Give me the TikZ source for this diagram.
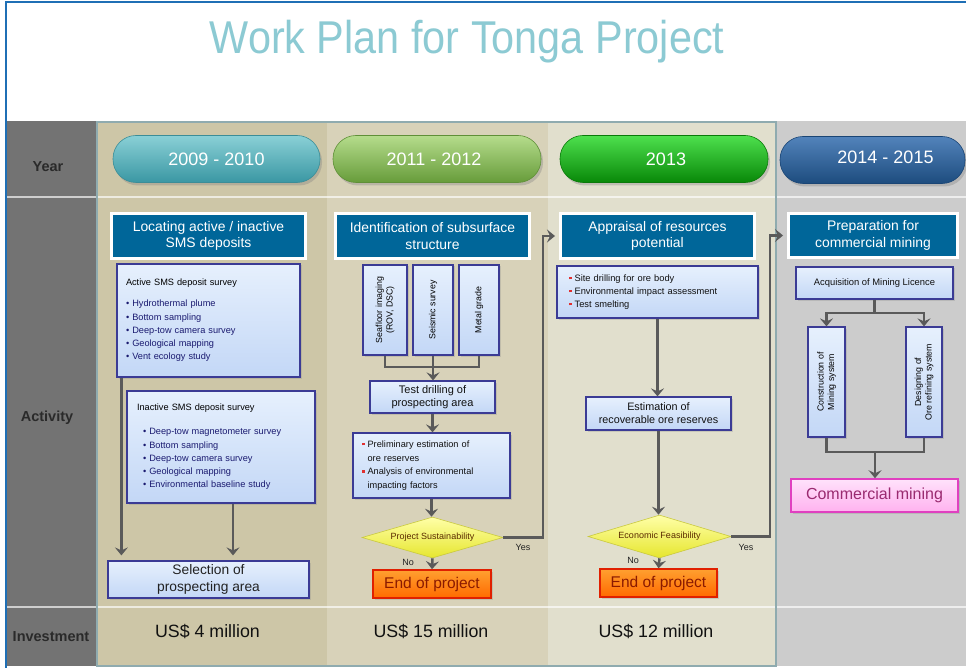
\documentclass[tikz,border=0pt]{standalone}
\usepackage{fontspec}
\setmainfont{Liberation Sans}
\usetikzlibrary{shapes.geometric,arrows.meta,shadows}
\definecolor{hdrblue}{HTML}{006699}
\definecolor{boxedge}{HTML}{3B3B95}
\definecolor{boxtop}{HTML}{E6F0FD}
\definecolor{boxbot}{HTML}{C3D7F6}
\definecolor{arrgray}{HTML}{5A5A5A}
\definecolor{navy}{HTML}{1A1A70}
\definecolor{bulred}{HTML}{E03030}
\definecolor{colA}{HTML}{CDC6A7}
\definecolor{colB}{HTML}{D8D2B9}
\definecolor{colC}{HTML}{E1DFCD}
\definecolor{colD}{HTML}{CCCCCC}
\definecolor{lblgray}{HTML}{737373}
\definecolor{framec}{HTML}{8FABAF}
\definecolor{titlec}{HTML}{8CCAD3}
\definecolor{borderblue}{HTML}{1F6FB5}
\definecolor{diaedge}{HTML}{C9C940}
\definecolor{diatop}{HTML}{FFFFA8}
\definecolor{diabot}{HTML}{E6E62E}
\definecolor{diatext}{HTML}{5A2A00}
\definecolor{endedge}{HTML}{E02000}
\definecolor{endtop}{HTML}{FFA030}
\definecolor{endbot}{HTML}{FF6A00}
\definecolor{endtext}{HTML}{8B1A00}
\definecolor{txtA}{HTML}{222222}
\definecolor{txtB}{HTML}{2A2A2A}
\definecolor{txtC}{HTML}{111111}
\definecolor{p1edge}{HTML}{3B8D97}
\definecolor{p1top}{HTML}{8AD0D6}
\definecolor{p1bot}{HTML}{3A97A3}
\definecolor{p2edge}{HTML}{5F8F38}
\definecolor{p2top}{HTML}{B5DC8C}
\definecolor{p2bot}{HTML}{679C3A}
\definecolor{p3edge}{HTML}{0A7A0A}
\definecolor{p3top}{HTML}{4EE04E}
\definecolor{p3bot}{HTML}{088808}
\definecolor{p4edge}{HTML}{1A4575}
\definecolor{p4top}{HTML}{5283BB}
\definecolor{p4bot}{HTML}{1D4C7E}
\definecolor{pinkedge}{HTML}{E040C0}
\definecolor{pinktop}{HTML}{FFE2FB}
\definecolor{pinkbot}{HTML}{FFB2EF}
\definecolor{pinktext}{HTML}{9A2A70}
\newcommand{\redsq}{\raisebox{2pt}{\textcolor{bulred}{\rule{2.6pt}{2.6pt}}}\hspace{3pt}}
\begin{document}
\begin{tikzpicture}[x=1pt,y=-1pt,
  pill/.style={rounded corners=23pt, minimum height=47pt, inner sep=0pt, text=white,
    font=\fontsize{18}{21}\selectfont, line width=0.6pt,
    drop shadow={opacity=0.35,shadow xshift=2pt,shadow yshift=-3pt}},
  hdr/.style={draw=white, line width=3pt, fill=hdrblue, text=white, align=center,
    font=\fontsize{13.9}{16.5}\selectfont, inner sep=0pt, minimum height=45pt,
    drop shadow={opacity=0.3,shadow xshift=1.5pt,shadow yshift=-1.5pt}},
  lbox/.style={draw=boxedge, line width=1.2pt, top color=boxtop, bottom color=boxbot,
    inner sep=0pt, drop shadow={opacity=0.25,shadow xshift=1.5pt,shadow yshift=-1.5pt}},
  rot/.style={rotate=90, align=center, font=\fontsize{8.8}{10.5}\selectfont, inner sep=0pt},
  dec/.style={diamond, aspect=3.4, inner sep=0pt, draw=diaedge, line width=0.6pt,
    top color=diatop, bottom color=diabot, text=diatext,
    font=\fontsize{9}{10}\selectfont},
  endbox/.style={draw=endedge, line width=1.5pt, top color=endtop, bottom color=endbot,
    text=endtext, font=\fontsize{15.5}{18}\selectfont, inner sep=0pt, minimum width=117pt, minimum height=28pt,
    drop shadow={opacity=0.25,shadow xshift=1.5pt,shadow yshift=-1.5pt}},
  arr/.style={draw=arrgray, line width=2.5pt, -{Stealth[length=8pt,width=13pt,inset=3pt]}},
  ln/.style={draw=arrgray, line width=2.5pt},
  yn/.style={font=\fontsize{9}{10}\selectfont, text=txtA, inner sep=0pt},
  rowlbl/.style={font=\bfseries\fontsize{14.5}{16}\selectfont, text=txtB, inner sep=0pt},
  inv/.style={font=\fontsize{17.8}{20}\selectfont, text=txtC, inner sep=0pt}
]
\useasboundingbox (0,0) rectangle (966,668);
\fill[white] (0,0) rectangle (966,668);
% background bands
\fill[lblgray] (7,121) rectangle (96,666);
\fill[colA] (96,121) rectangle (327,666);
\fill[colB] (327,121) rectangle (548,666);
\fill[colC] (548,121) rectangle (776,666);
\fill[colD] (776,121) rectangle (966,666);
\draw[white, opacity=0.65, line width=2pt] (7,197) -- (966,197);
\draw[white, opacity=0.65, line width=2pt] (7,607) -- (966,607);
\draw[framec, line width=2.5pt] (97,122) rectangle (776,666);
\draw[borderblue, line width=2pt] (6,668) -- (6,2) -- (966,2);
% title
\node[font=\fontsize{46}{50}\selectfont, text=titlec, xscale=0.9, anchor=base, inner sep=0pt] (title) at (467,54) {Work Plan for Tonga Project};
% row labels
\node[rowlbl] (lyear) at (48,167) {Year};
\node[rowlbl] (lact) at (47,418) {Activity};
\node[rowlbl] (linv) at (51,637) {Investment};
% year pills
\node[pill, minimum width=207pt, draw=p1edge, top color=p1top, bottom color=p1bot] (p1) at (216.5,159) {2009 - 2010};
\node[pill, minimum width=208pt, draw=p2edge, top color=p2top, bottom color=p2bot] (p2) at (437,159) {\hspace*{-6pt}2011 - 2012};
\node[pill, minimum width=208pt, draw=p3edge, top color=p3top, bottom color=p3bot] (p3) at (664,159) {\hspace*{4pt}2013};
\node[pill, minimum width=185pt, draw=p4edge, top color=p4top, bottom color=p4bot] (p4) at (872.5,160) {\hspace*{26pt}\raisebox{5pt}{2014 - 2015}};
% headers
\node[hdr, minimum width=194pt] (h1) at (208.5,236) {Locating active / inactive\\SMS deposits};
\node[hdr, minimum width=194pt] (h2) at (432.5,236) {Identification of subsurface\\structure};
\node[hdr, minimum width=194pt] (h3) at (657.5,236) {Appraisal of resources\\potential};
\node[hdr, minimum width=169pt, minimum height=44pt] (h4) at (873,235.5) {Preparation for\\commercial mining};
% column 1
\node[lbox, minimum width=183pt, minimum height=113pt, text width=165pt, inner xsep=9pt, align=left,
  font=\fontsize{9.2}{13.3}\selectfont] (act) at (208.5,320.5)
  {{\fontsize{9.2}{10}\selectfont Active SMS deposit survey}\\[7.7pt]
   {\color{navy}• Hydrothermal plume\\ • Bottom sampling\\ • Deep-tow camera survey\\ • Geological mapping\\ • Vent ecology study}};
\node[lbox, minimum width=188pt, minimum height=112pt, text width=168pt, inner xsep=10pt, align=left,
  font=\fontsize{9.2}{13.3}\selectfont] (inact) at (221,447)
  {{\fontsize{9.2}{10}\selectfont Inactive SMS deposit survey}\\[10.7pt]
   {\color{navy}\hspace*{6pt}• Deep-tow magnetometer survey\\ \hspace*{6pt}• Bottom sampling\\ \hspace*{6pt}• Deep-tow camera survey\\ \hspace*{6pt}• Geological mapping\\ \hspace*{6pt}• Environmental baseline study}};
\node[lbox, minimum width=201pt, minimum height=37pt, align=center, text=txtA,
  font=\fontsize{13.8}{16.5}\selectfont] (sel) at (208.5,579.5) {Selection of\\prospecting area};
\coordinate (c1) at ([xshift=5pt]act.south west);
\coordinate (c2) at ([xshift=12pt]inact.south);
\draw[arr, shorten >=5pt] (c1) -- (c1 |- sel.north);
\draw[arr, shorten >=5pt] (c2) -- (c2 |- sel.north);
% column 2
\node[lbox, minimum width=44pt, minimum height=90pt] (v1) at (385,310) {};
\node[lbox, minimum width=40pt, minimum height=90pt] (v2) at (433,310) {};
\node[lbox, minimum width=40pt, minimum height=90pt] (v3) at (479,310) {};
\node[rot] (v1t) at (v1.center) {Seafloor imaging\\(ROV, DSC)};
\node[rot] (v2t) at (v2.center) {Seismic survey};
\node[rot] (v3t) at (v3.center) {Metal grade};
\node[lbox, minimum width=125pt, minimum height=32pt, align=center, text=txtC,
  font=\fontsize{11}{12.7}\selectfont] (test) at (432.5,397) {Test drilling of\\prospecting area};
\node[lbox, minimum width=157pt, minimum height=65pt, text width=139pt, inner xsep=9pt, align=left, text=txtC,
  font=\fontsize{9.2}{13.7}\selectfont] (prel) at (431.5,465.5)
  {\redsq Preliminary estimation of\\ \hspace*{5.6pt}ore reserves\\ \redsq Analysis of environmental\\ \hspace*{5.6pt}impacting factors};
\node[dec, minimum width=141pt, minimum height=41pt] (d1) at (432.5,537.5) {Project Sustainability};
\node[endbox, minimum width=118pt] (e1) at (432,584) {End of project};
\coordinate (j2) at (433,367);
\draw[ln] (v1.south) |- (j2) -| (v3.south);
\draw[arr] (v2.south) -- (v2.south |- test.north);
\draw[arr] (test.south) -- (test.south |- prel.north);
\draw[arr] (prel.south) -- (prel.south |- d1.north);
\draw[arr] (d1.south) -- (e1.north);
\coordinate (y1) at (543,537.5);
\draw[arr, shorten >=4pt] (d1.east) -- (y1) |- (h3.west);
\node[yn] (yes1) at (523,547) {Yes};
\node[yn] (no1) at (408,562) {No};
% column 3
\node[lbox, minimum width=201pt, minimum height=52pt, text width=177pt, inner xsep=12pt, align=left, text=txtC,
  font=\fontsize{9.3}{13}\selectfont] (b3) at (657.5,292)
  {\redsq Site drilling for ore body\\ \redsq Environmental impact assessment\\ \redsq Test smelting};
\node[lbox, minimum width=145pt, minimum height=33pt, align=center, text=txtC,
  font=\fontsize{10.8}{13}\selectfont] (est) at (658.5,413.5) {Estimation of\\recoverable ore reserves};
\node[dec, minimum width=143pt, minimum height=43pt] (d2) at (659.5,536.5) {Economic Feasibility};
\node[endbox] (e2) at (658.5,583) {End of project};
\draw[arr] (b3.south) -- (b3.south |- est.north);
\draw[arr] (est.south) -- (est.south |- d2.north);
\draw[arr] (d2.south) -- (e2.north);
\coordinate (y2) at (770,536.5);
\draw[arr, shorten >=4pt] (d2.east) -- (y2) |- (h4.west);
\node[yn] (yes2) at (746,547) {Yes};
\node[yn] (no2) at (633,560) {No};
% column 4
\node[lbox, minimum width=157pt, minimum height=32pt, text=txtC,
  font=\fontsize{9.4}{11}\selectfont] (acq) at (874.5,283) {Acquisition of Mining Licence};
\node[lbox, minimum width=37pt, minimum height=110pt] (con) at (826.5,382) {};
\node[lbox, minimum width=36pt, minimum height=110pt] (des) at (924,382) {};
\node[rot] (cont) at (con.center) {Construction of\\Mining system};
\node[rot] (dest) at (des.center) {Designing of\\Ore refining system};
\node[draw=pinkedge, line width=1.5pt, top color=pinktop, bottom color=pinkbot, text=pinktext,
  font=\fontsize{16}{18}\selectfont, minimum width=167pt, minimum height=33pt, inner sep=0pt,
  drop shadow={opacity=0.25,shadow xshift=1.5pt,shadow yshift=-1.5pt}] (com) at (874.5,495.5) {Commercial mining};
\coordinate (j4a) at (875,313);
\coordinate (j4b) at (875,452);
\draw[ln] (acq.south) -- (acq.south |- j4a);
\draw[arr] (j4a) -| (con.north);
\draw[arr] (j4a) -| (des.north);
\draw[ln] (con.south) |- (j4b) -| (des.south);
\draw[arr] (j4b) -- (j4b |- com.north);
% investment
\node[inv] (i1) at (207.5,632) {US\$ 4 million};
\node[inv] (i2) at (431,632) {US\$ 15 million};
\node[inv] (i3) at (656,632) {US\$ 12 million};
\end{tikzpicture}
\end{document}
